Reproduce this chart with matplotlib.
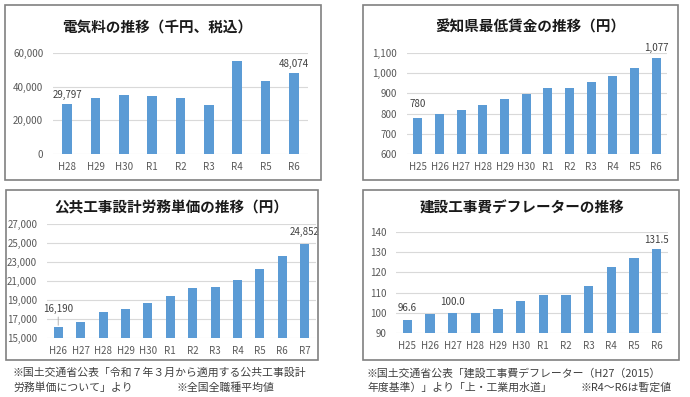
import matplotlib
matplotlib.use('Agg')
import matplotlib.pyplot as plt
from matplotlib.patches import Rectangle
from matplotlib.ticker import FuncFormatter

plt.rcParams['font.family'] = ['Noto Sans CJK JP', 'DejaVu Sans']

# data
denki_labels = ['H28', 'H29', 'H30', 'R1', 'R2', 'R3', 'R4', 'R5', 'R6']
denki_vals = [29797, 33500, 35300, 34700, 33000, 29400, 55000, 43600, 48074]

chingin_labels = ['H25', 'H26', 'H27', 'H28', 'H29', 'H30', 'R1', 'R2', 'R3', 'R4', 'R5', 'R6']
chingin_vals = [780, 800, 820, 845, 871, 898, 926, 927, 955, 986, 1027, 1077]

roumu_labels = ['H26', 'H27', 'H28', 'H29', 'H30', 'R1', 'R2', 'R3', 'R4', 'R5', 'R6', 'R7']
roumu_vals = [16190, 16678, 17704, 18078, 18632, 19392, 20214, 20409, 21084, 22227, 23600, 24852]

deflator_labels = ['H25', 'H26', 'H27', 'H28', 'H29', 'H30', 'R1', 'R2', 'R3', 'R4', 'R5', 'R6']
deflator_vals = [96.6, 99.4, 100.0, 99.7, 101.7, 105.8, 108.8, 108.8, 113.4, 122.8, 127.0, 131.5]

W, H = 690, 397
BAR = '#5B9BD5'
GRID = '#D9D9D9'
TICK = '#595959'

fig = plt.figure(figsize=(W / 100, H / 100), dpi=100)


def px_rect(x0, y0, x1, y1):
    return [x0 / W, 1 - y1 / H, (x1 - x0) / W, (y1 - y0) / H]


def panel_box(x0, y0, x1, y1):
    fig.patches.append(Rectangle((x0 / W, 1 - y1 / H), (x1 - x0) / W, (y1 - y0) / H,
                                 transform=fig.transFigure, fill=False,
                                 edgecolor='#808080', linewidth=1.2))


def make_chart(rect, labels, vals, ylim, yticks, fmt, width, title, title_xy):
    ax = fig.add_axes(px_rect(*rect))
    x = range(len(labels))
    ax.bar(x, vals, width=width, color=BAR, zorder=3)
    ax.set_xlim(-0.5, len(labels) - 0.5)
    ax.set_ylim(*ylim)
    ax.set_yticks(yticks)
    ax.yaxis.set_major_formatter(FuncFormatter(fmt))
    ax.set_xticks(list(x))
    ax.set_xticklabels(labels)
    ax.grid(axis='y', color=GRID, linewidth=0.8, zorder=0)
    for s in ax.spines.values():
        s.set_visible(False)
    ax.tick_params(length=0, labelsize=7, colors=TICK)
    ax.tick_params(axis='x', pad=5.5)
    ax.tick_params(axis='y', pad=7)
    ax.set_facecolor('none')
    fig.text(title_xy[0] / W, 1 - title_xy[1] / H, title, ha='center', va='center',
             fontsize=10.5, fontweight='bold', color='#1a1a1a')
    return ax


def label(ax, i, v, text, dy, line=False):
    kw = {}
    if line:
        kw['arrowprops'] = dict(arrowstyle='-', color='#A6A6A6', lw=0.6, shrinkA=0, shrinkB=1)
    ax.annotate(text, (i, v), xytext=(0, dy), textcoords='offset points',
                ha='center', va='bottom', fontsize=7, color='#404040', **kw)


comma = lambda v, p: f'{int(v):,}'

# panel 1
panel_box(5, 5, 321, 180)
ax1 = make_chart((53, 53, 308, 154), denki_labels, denki_vals, (0, 60000),
                 [0, 20000, 40000, 60000], comma, 0.33,
                 '電気料の推移（千円、税込）', (157, 27))
label(ax1, 0, denki_vals[0], f'{denki_vals[0]:,}', 3)
label(ax1, 8, denki_vals[8], f'{denki_vals[8]:,}', 3)

# panel 2
panel_box(363, 5, 678, 180)
ax2 = make_chart((407, 53, 667, 154), chingin_labels, chingin_vals, (600, 1100),
                 [600, 700, 800, 900, 1000, 1100], comma, 0.42,
                 '愛知県最低賃金の推移（円）', (530, 27))
label(ax2, 0, chingin_vals[0], f'{chingin_vals[0]:,}', 6)
label(ax2, 11, chingin_vals[11], f'{chingin_vals[11]:,}', 3)

# panel 3
panel_box(6, 190, 318, 360)
ax3 = make_chart((47, 224, 316, 338), roumu_labels, roumu_vals, (15000, 27000),
                 list(range(15000, 27001, 2000)), comma, 0.4,
                 '公共工事設計労務単価の推移（円）', (171, 207))
label(ax3, 0, roumu_vals[0], f'{roumu_vals[0]:,}', 9, line=True)
label(ax3, 11, roumu_vals[11], f'{roumu_vals[11]:,}', 5)

# panel 4
panel_box(363, 190, 679, 360)
ax4 = make_chart((396, 232, 668, 333), deflator_labels, deflator_vals, (90, 140),
                 [90, 100, 110, 120, 130, 140], lambda v, p: f'{int(v)}', 0.4,
                 '建設工事費デフレーターの推移', (522, 208))
label(ax4, 0, deflator_vals[0], f'{deflator_vals[0]:.1f}', 5)
label(ax4, 2, deflator_vals[2], f'{deflator_vals[2]:.1f}', 4)
label(ax4, 11, deflator_vals[11], f'{deflator_vals[11]:.1f}', 3)

# footnotes
note = dict(fontsize=7.8, color='#404040', va='center', ha='left')
fig.text(13 / W, 1 - 373 / H, '※国土交通省公表「令和７年３月から適用する公共工事設計', **note)
fig.text(13 / W, 1 - 388 / H, '労務単価について」より', **note)
fig.text(177 / W, 1 - 388 / H, '※全国全職種平均値', **note)
fig.text(367 / W, 1 - 373 / H, '※国土交通省公表「建設工事費デフレーター（H27（2015）', **note)
fig.text(367 / W, 1 - 388 / H, '年度基準）」より「上・工業用水道」', **note)
fig.text(580 / W, 1 - 388 / H, '※R4～R6は暫定値', **note)

fig.savefig('out.png', dpi=100)
